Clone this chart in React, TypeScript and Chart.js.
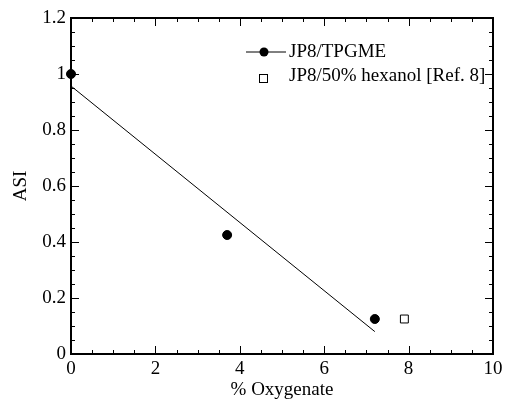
import React, { useEffect, useRef } from "react";
import { Chart, registerables } from "chart.js";

Chart.register(...registerables);

const tpgmeX = [0, 3.7, 7.2];
const tpgmeY = [1.0, 0.425, 0.125];
const hexanolX = [7.9];
const hexanolY = [0.125];
const fitX = [0, 7.2];
const fitY = [0.957, 0.08];
const legendLabels = ["JP8/TPGME", "JP8/50% hexanol [Ref. 8]"];
const xTitle = "% Oxygenate";
const yTitle = "ASI";

const FONT = "'Liberation Serif', 'Times New Roman', serif";

const framePlugin = {
  id: "frameTicks",
  afterDraw(chart: any) {
    const { ctx, chartArea } = chart;
    const { left, right, top, bottom } = chartArea;
    const xs = chart.scales.x;
    const ys = chart.scales.y;
    ctx.save();
    ctx.strokeStyle = "#000";
    ctx.lineWidth = 1;
    ctx.beginPath();
    for (let i = 0; i <= 20; i++) {
      const v = i * 0.5;
      const px = Math.round(xs.getPixelForValue(v)) + 0.5;
      const len = i % 4 === 0 ? 8 : 4;
      ctx.moveTo(px, bottom);
      ctx.lineTo(px, bottom - len);
      ctx.moveTo(px, top);
      ctx.lineTo(px, top + len);
    }
    for (let i = 0; i <= 24; i++) {
      const v = i * 0.05;
      const py = Math.round(ys.getPixelForValue(v)) + 0.5;
      const len = i % 4 === 0 ? 8 : 4;
      ctx.moveTo(left, py);
      ctx.lineTo(left + len, py);
      ctx.moveTo(right, py);
      ctx.lineTo(right - len, py);
    }
    ctx.stroke();
    ctx.lineWidth = 2;
    ctx.strokeRect(left, top, right - left, bottom - top);

    // legend
    ctx.lineWidth = 1;
    ctx.beginPath();
    ctx.moveTo(246, 52);
    ctx.lineTo(286, 52);
    ctx.stroke();
    ctx.fillStyle = "#000";
    ctx.beginPath();
    ctx.arc(264, 52, 4.5, 0, Math.PI * 2);
    ctx.fill();
    ctx.fillStyle = "#fff";
    ctx.fillRect(259, 74, 8, 8);
    ctx.strokeRect(259.5, 74.5, 8, 8);
    ctx.fillStyle = "#000";
    ctx.font = `19px ${FONT}`;
    ctx.textBaseline = "middle";
    ctx.textAlign = "left";
    ctx.fillText(legendLabels[0], 289, 52);
    ctx.fillText(legendLabels[1], 289, 76);
    ctx.restore();
  },
};

export default function App() {
  const ref = useRef<HTMLCanvasElement | null>(null);
  useEffect(() => {
    if (!ref.current) return;
    const chart = new Chart(ref.current, {
      type: "scatter",
      data: {
        datasets: [
          {
            type: "line",
            data: fitX.map((x, i) => ({ x, y: fitY[i] })),
            borderColor: "#000",
            borderWidth: 1,
            pointRadius: 0,
            showLine: true,
            fill: false,
            clip: false as any,
          },
          {
            data: tpgmeX.map((x, i) => ({ x, y: tpgmeY[i] })),
            backgroundColor: "#000",
            borderColor: "#000",
            pointRadius: 4.5,
            pointStyle: "circle",
            clip: false as any,
          },
          {
            data: hexanolX.map((x, i) => ({ x, y: hexanolY[i] })),
            backgroundColor: "#fff",
            borderColor: "#000",
            borderWidth: 1,
            pointRadius: 5.6,
            pointStyle: "rect",
            clip: false as any,
          },
        ],
      },
      options: {
        animation: false,
        responsive: true,
        maintainAspectRatio: false,
        layout: { padding: { left: 0, right: 15, top: 18, bottom: 0 } },
        plugins: { legend: { display: false }, tooltip: { enabled: false } },
        scales: {
          x: {
            type: "linear",
            min: 0,
            max: 10,
            grid: { display: false, drawTicks: false },
            border: { display: false },
            ticks: {
              stepSize: 2,
              padding: 4,
              color: "#000",
              font: { family: FONT, size: 19 },
              maxRotation: 0,
              callback: (v: any) => String(v),
            },
            title: {
              display: true,
              text: xTitle,
              color: "#000",
              font: { family: FONT, size: 19, lineHeight: 1.0 },
              padding: { top: 0, bottom: 0 },
            },
            afterFit: (s: any) => {
              s.height = 46;
            },
          },
          y: {
            type: "linear",
            min: 0,
            max: 1.2,
            grid: { display: false, drawTicks: false },
            border: { display: false },
            ticks: {
              stepSize: 0.2,
              padding: 5,
              color: "#000",
              font: { family: FONT, size: 19 },
              callback: (v: any) => String(Math.round(v * 10) / 10),
            },
            title: {
              display: true,
              text: yTitle,
              color: "#000",
              font: { family: FONT, size: 19 },
              padding: { top: 10, bottom: 0 },
            },
            afterFit: (s: any) => {
              s.width = 71;
            },
          },
        },
      },
      plugins: [framePlugin],
    });
    return () => chart.destroy();
  }, []);
  return (
    <div style={{ position: "fixed", left: 0, top: 0, width: 508, height: 400, background: "#fff" }}>
      <canvas ref={ref} />
    </div>
  );
}
